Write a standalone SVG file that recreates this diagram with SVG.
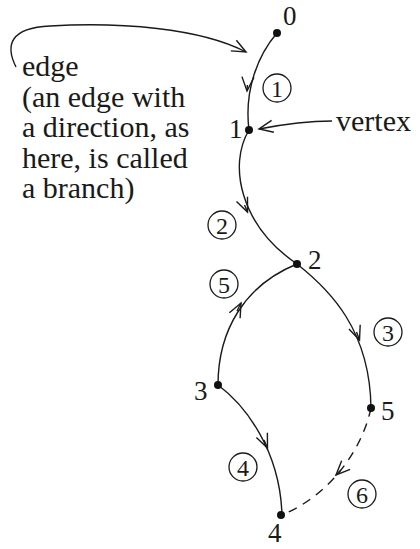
<svg xmlns="http://www.w3.org/2000/svg" width="420" height="549" viewBox="0 0 420 549">
<defs>
<style>
.e{fill:none;stroke:#1a1a1a;stroke-width:1.4}
.d{stroke-dasharray:9,7}
.t{font-family:'Liberation Serif','Times New Roman',serif;font-size:30px;fill:#1a1a1a}
.n{font-family:'Liberation Serif','Times New Roman',serif;font-size:27px;fill:#1a1a1a}
.c{font-family:'Liberation Serif','Times New Roman',serif;font-size:24px;fill:#1a1a1a;text-anchor:middle}
.ring{fill:none;stroke:#1a1a1a;stroke-width:1.3}
.v{fill:#111}
</style>
<marker id="ar" markerUnits="userSpaceOnUse" markerWidth="30" markerHeight="30" refX="0" refY="0" viewBox="-15 -15 30 30" orient="auto" overflow="visible">
<path d="M-14,-6 L0,0 L-14,6" fill="none" stroke="#1a1a1a" stroke-width="1.4"/>
</marker>
</defs>
<g id="connectors">
<path class="e" d="M277,33 C258,55 244,90 249,130"/>
<path class="e" d="M247.4,85 L247,91" marker-end="url(#ar)"/>
<path class="e" d="M249,130 C228,165 240,225 297,264"/>
<path class="e" d="M244.5,205 L247.5,212" marker-end="url(#ar)"/>
<path class="e" d="M297,264 C330,290 370,330 371,408"/>
<path class="e" d="M356.5,332 L359.5,340" marker-end="url(#ar)"/>
<path class="e" d="M218,385 C218,330 245,285 297,264"/>
<path class="e" d="M237,311 L241,303" marker-end="url(#ar)"/>
<path class="e" d="M218,385 C245,405 280,450 282,515"/>
<path class="e" d="M264,440 L267.5,448" marker-end="url(#ar)"/>
<path class="e d" d="M371,408 C362,450 330,495 282,515"/>
<path class="e" d="M341,470 L336,475" marker-end="url(#ar)"/>
<path class="e" d="M16,67 C5,45 10,28 50,26 C120,22 200,28 246,52" marker-end="url(#ar)"/>
<path class="e" d="M332,121 Q300,121 259,129" marker-end="url(#ar)"/>
</g>
<g id="n0"><circle class="v" cx="277" cy="33" r="4"/><text class="n" x="283" y="25">0</text></g>
<g id="n1"><circle class="v" cx="249" cy="130" r="4"/><text class="n" x="229" y="138">1</text></g>
<g id="n2"><circle class="v" cx="297" cy="264" r="4"/><text class="n" x="308" y="269">2</text></g>
<g id="n3"><circle class="v" cx="218" cy="385" r="4"/><text class="n" x="194" y="400">3</text></g>
<g id="n5"><circle class="v" cx="371" cy="408" r="4"/><text class="n" x="381" y="420">5</text></g>
<g id="n4"><circle class="v" cx="281" cy="515" r="4"/><text class="n" x="268" y="542">4</text></g>
<g id="b1"><circle class="ring" cx="277" cy="88" r="14"/><text class="c" x="277" y="96.5">1</text></g>
<g id="b2"><circle class="ring" cx="222" cy="225" r="14"/><text class="c" x="222" y="233.5">2</text></g>
<g id="b5"><circle class="ring" cx="224" cy="284" r="14"/><text class="c" x="224" y="292.5">5</text></g>
<g id="b3"><circle class="ring" cx="388" cy="332" r="14"/><text class="c" x="388" y="340.5">3</text></g>
<g id="b4"><circle class="ring" cx="243" cy="467" r="14"/><text class="c" x="243" y="475.5">4</text></g>
<g id="b6"><circle class="ring" cx="362" cy="494" r="14"/><text class="c" x="362" y="502.5">6</text></g>
<g id="vertex-label"><text class="t" x="336" y="131">vertex</text></g>
<g id="edge-label">
<text class="t" x="22" y="76">edge</text>
<text class="t" x="22" y="106.5">(an edge with</text>
<text class="t" x="22" y="137">a direction, as</text>
<text class="t" x="22" y="167.5">here, is called</text>
<text class="t" x="22" y="198">a branch)</text>
</g>
</svg>
